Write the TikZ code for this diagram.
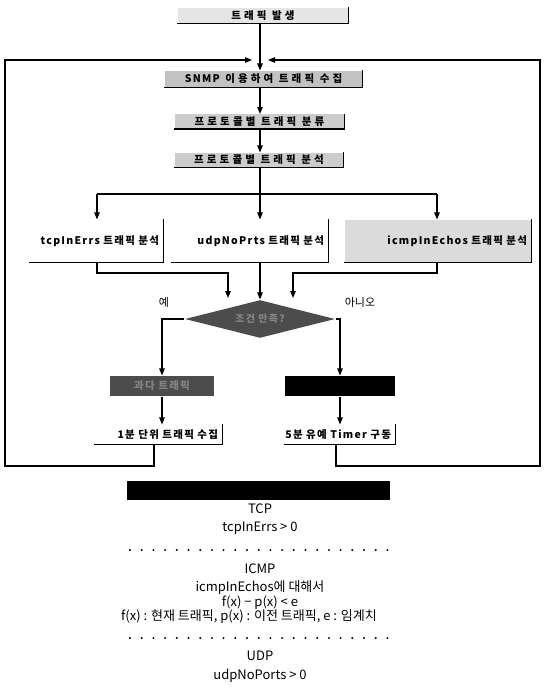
\documentclass[tikz,border=0pt]{standalone}
\usepackage{fontspec}
\setmainfont{Noto Sans CJK KR}
\newfontfamily\colfont{Noto Sans CJK KR}[LetterSpace=30]
\newfontfamily\flowfont{Noto Sans CJK KR}[LetterSpace=12]
\usetikzlibrary{shapes.geometric,arrows.meta}
\definecolor{gA}{gray}{0.90}
\definecolor{gB}{gray}{0.76}
\definecolor{gC}{gray}{0.80}
\definecolor{gD}{gray}{0.86}
\definecolor{gDark}{gray}{0.30}
\definecolor{gText}{gray}{0.52}
\begin{document}
\begin{tikzpicture}[x=1pt,y=-1pt,line width=1.1pt,
  arr/.style={-{Triangle[length=7pt,width=5.5pt]}},
  colbox/.style={inner sep=0pt,font=\colfont\bfseries\fontsize{10.5}{12}\selectfont},
  fbox/.style={inner sep=0pt,font=\flowfont\bfseries\fontsize{10.5}{12}\selectfont},
  rbox/.style={fbox,inner xsep=4pt,align=right,text width=#1-8pt},
  txt/.style={inner sep=0pt,font=\fontsize{13}{15}\selectfont},
  lbl/.style={inner sep=0pt,font=\fontsize{11}{12}\selectfont}]
\useasboundingbox (0,0) rectangle (545,690);
% main column
\node[colbox,fill=gA,minimum width=170pt,minimum height=15pt] (start) at (263,15.5) {트래픽 발생};
\node[colbox,fill=gB,minimum width=197pt,minimum height=16pt] (snmp) at (263.5,79) {{\flowfont SNMP} 이용하여 트래픽 수집};
\node[colbox,fill=gC,minimum width=169pt,minimum height=14pt] (cls) at (259.5,121.5) {프로토콜별 트래픽 분류};
\node[colbox,fill=gC,minimum width=168pt,minimum height=14pt] (ana) at (259,160) {프로토콜별 트래픽 분석};
% three analysis boxes
\node[rbox=133pt,minimum height=42pt] (tcp) at (96.5,241) {tcpInErrs 트래픽 분석};
\node[rbox=156pt,minimum height=42pt] (udp) at (250,241) {udpNoPrts 트래픽 분석};
\node[rbox=186pt,fill=gD,minimum height=42pt] (icmp) at (438,241) {icmpInEchos 트래픽 분석};
% decision
\node[diamond,aspect=3.9,fill=gDark,inner sep=0pt,minimum width=150pt,minimum height=38pt,
  text=gText,font=\flowfont\bfseries\fontsize{10}{12}\selectfont] (dia) at (260,319) {조건 만족?};
\node[lbl] (yes) at (164,302) {예};
\node[lbl] (no) at (360,302) {아니오};
% result boxes
\node[fbox,fill=gDark,text=gText,minimum width=104pt,minimum height=20pt] (hot) at (162,386) {과다 트래픽};
\node[fbox,fill=black,minimum width=110pt,minimum height=20pt] (norm) at (340,386) {};
\node[rbox=127pt,minimum height=19pt] (one) at (158.5,434.5) {1분 단위 트래픽 수집};
\node[rbox=124pt,minimum height=19pt] (five) at (333,434.5) {5분 유예 Timer 구동};
% box shadow edges
\foreach \n in {start,snmp,cls,ana,tcp,udp,icmp,one}
  \draw[line width=1.3pt] (\n.north east) -- (\n.south east) -- (\n.south west);
\draw[line width=1.3pt] (five.north east) -- (five.south east) -- ([xshift=14pt]five.south west);
% connectors
\coordinate (col) at (260,0);
\coordinate (tipL) at (252,60);
\coordinate (tipR) at (268,60);
\coordinate (cL) at (5,466);
\coordinate (cR) at (540,466);
\draw[arr] (col |- start.south) -- (col |- snmp.north);
\draw[arr] (col |- snmp.south) -- (col |- cls.north);
\draw[arr] (col |- cls.south) -- (col |- ana.north);
\coordinate (bl) at (97,194);
\coordinate (br) at (437,194);
\draw (bl) -- (br);
\draw (col |- ana.south) -- (col |- bl);
\draw[arr] (bl) -- (bl |- tcp.north);
\draw[arr] (col |- bl) -- (col |- udp.north);
\draw[arr] (br) -- (br |- icmp.north);
\coordinate (hl) at (228,273);
\coordinate (hr) at (293,273);
\coordinate (dl) at (228,298);
\coordinate (dr) at (293,298);
\draw[arr] (tcp.south -| bl) |- (hl) -- (dl);
\draw[arr] (udp.south -| dia.north) -- (dia.north);
\draw[arr] (icmp.south -| br) |- (hr) -- (dr);
\draw[arr] (dia.west) -| (hot.north);
\draw[arr] (dia.east) -| (norm.north);
\draw[arr] (hot.south) -- (hot.south |- one.north);
\draw[arr] (norm.south) -- (norm.south |- five.north);
\draw[arr] (one.south -| 154,0) |- (cL) |- (tipL);
\draw[arr] (five.south -| 336,0) |- (cR) |- (tipR);
% legend
\node[fill=black,minimum width=263pt,minimum height=19pt,inner sep=0pt] (bar) at (258.5,490) {};
\node[txt] (t1) at (260,509) {TCP};
\node[txt] (t2) at (260,528) {tcpInErrs > 0};
\node[txt] (t3) at (260,569) {ICMP};
\node[txt] (t4) at (260,588) {icmpInEchos에 대해서};
\node[txt] (t5) at (260,603) {f(x) − p(x) < e};
\node[txt] (t6) at (249,617) {f(x) : 현재 트래픽, p(x) : 이전 트래픽, e : 임계치};
\node[txt] (t7) at (260,656) {UDP};
\node[txt] (t8) at (260,676) {udpNoPorts > 0};
\foreach \i in {0,...,22} {
  \fill (130+\i*11.7,550) circle (1.1pt);
  \fill (130+\i*11.7,638) circle (1.1pt);
}
\end{tikzpicture}
\end{document}
